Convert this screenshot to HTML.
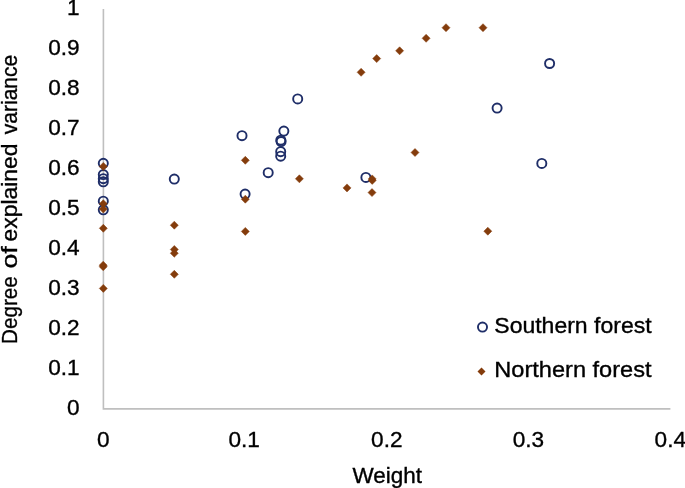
<!DOCTYPE html>
<html><head><meta charset="utf-8"><title>chart</title>
<style>
html,body{margin:0;padding:0;background:#fff;}
body{width:685px;height:488px;overflow:hidden;}
svg{display:block;}
svg{will-change:transform;}
text.t{font-size:21.6px;}
text{font-family:"Liberation Sans",sans-serif;font-size:22.6px;fill:#000;stroke:#000;stroke-width:0.35px;}
</style></head><body>
<svg width="685" height="488" viewBox="0 0 685 488">
<rect width="685" height="488" fill="#fff"/>
<path d="M103.4 8.9 V408.9 H670.4" fill="none" stroke="#bfbfbf" stroke-width="1.6"/>
<text x="79.6" y="415.4" text-anchor="end">0</text>
<text x="79.6" y="375.4" text-anchor="end">0.1</text>
<text x="79.6" y="335.4" text-anchor="end">0.2</text>
<text x="79.6" y="295.4" text-anchor="end">0.3</text>
<text x="79.6" y="255.4" text-anchor="end">0.4</text>
<text x="79.6" y="215.4" text-anchor="end">0.5</text>
<text x="79.6" y="175.4" text-anchor="end">0.6</text>
<text x="79.6" y="135.4" text-anchor="end">0.7</text>
<text x="79.6" y="95.4" text-anchor="end">0.8</text>
<text x="79.6" y="55.4" text-anchor="end">0.9</text>
<text x="79.6" y="15.4" text-anchor="end">1</text>
<text x="103.3" y="447.3" text-anchor="middle">0</text>
<text x="244.2" y="447.3" text-anchor="middle">0.1</text>
<text x="386.8" y="447.3" text-anchor="middle">0.2</text>
<text x="528.5" y="447.3" text-anchor="middle">0.3</text>
<text x="670.3" y="447.3" text-anchor="middle">0.4</text>
<text class="t" x="387.2" y="482.9" text-anchor="middle" textLength="69.5" lengthAdjust="spacingAndGlyphs">Weight</text>
<text class="t" transform="translate(17.0 344.0) rotate(-90)" textLength="67.8" lengthAdjust="spacingAndGlyphs">Degree</text>
<text class="t" transform="translate(17.0 268.6) rotate(-90)" textLength="22.2" lengthAdjust="spacingAndGlyphs">of</text>
<text class="t" transform="translate(17.0 241.4) rotate(-90)" textLength="97.8" lengthAdjust="spacingAndGlyphs">explained</text>
<text class="t" transform="translate(17.0 134.3) rotate(-90)" textLength="79.6" lengthAdjust="spacingAndGlyphs">variance</text>
<g fill="none" stroke="#1f2e68" stroke-width="1.9">
<circle cx="103.3" cy="163.3" r="4.55"/>
<circle cx="103.3" cy="174.6" r="4.55"/>
<circle cx="103.3" cy="178.7" r="4.55"/>
<circle cx="103.3" cy="181.8" r="4.55"/>
<circle cx="103.3" cy="201.2" r="4.55"/>
<circle cx="103.3" cy="209.8" r="4.55"/>
<circle cx="174.3" cy="179.1" r="4.55"/>
<circle cx="242.0" cy="135.7" r="4.55"/>
<circle cx="245.1" cy="194.1" r="4.55"/>
<circle cx="268.2" cy="172.7" r="4.55"/>
<circle cx="280.8" cy="140.2" r="4.55"/>
<circle cx="281.1" cy="141.6" r="4.55"/>
<circle cx="280.7" cy="151.7" r="4.55"/>
<circle cx="280.7" cy="156.2" r="4.55"/>
<circle cx="283.85" cy="131.1" r="4.55"/>
<circle cx="297.7" cy="98.9" r="4.55"/>
<circle cx="365.9" cy="177.4" r="4.55"/>
<circle cx="497.1" cy="108.1" r="4.55"/>
<circle cx="541.8" cy="163.4" r="4.55"/>
<circle cx="549.6" cy="63.5" r="4.55"/>
</g>
<g fill="#843C0C" stroke="#843C0C" stroke-width="0.5" stroke-linejoin="round">
<path d="M103.3 162.4L107.3 166.4L103.3 170.4L99.3 166.4Z"/>
<path d="M103.3 199.7L107.3 203.7L103.3 207.7L99.3 203.7Z"/>
<path d="M103.3 205.0L107.3 209.0L103.3 213.0L99.3 209.0Z"/>
<path d="M103.3 224.3L107.3 228.3L103.3 232.3L99.3 228.3Z"/>
<path d="M103.2 261.2L107.2 265.2L103.2 269.2L99.2 265.2Z"/>
<path d="M103.2 262.7L107.2 266.7L103.2 270.7L99.2 266.7Z"/>
<path d="M103.3 284.4L107.3 288.4L103.3 292.4L99.3 288.4Z"/>
<path d="M174.3 221.2L178.3 225.2L174.3 229.2L170.3 225.2Z"/>
<path d="M174.3 245.5L178.3 249.5L174.3 253.5L170.3 249.5Z"/>
<path d="M174.3 249.2L178.3 253.2L174.3 257.2L170.3 253.2Z"/>
<path d="M174.3 270.3L178.3 274.3L174.3 278.3L170.3 274.3Z"/>
<path d="M245.3 156.3L249.3 160.3L245.3 164.3L241.3 160.3Z"/>
<path d="M245.3 195.2L249.3 199.2L245.3 203.2L241.3 199.2Z"/>
<path d="M245.3 227.4L249.3 231.4L245.3 235.4L241.3 231.4Z"/>
<path d="M299.4 174.8L303.4 178.8L299.4 182.8L295.4 178.8Z"/>
<path d="M347.0 183.9L351.0 187.9L347.0 191.9L343.0 187.9Z"/>
<path d="M372.2 174.9L376.2 178.9L372.2 182.9L368.2 178.9Z"/>
<path d="M372.2 176.4L376.2 180.4L372.2 184.4L368.2 180.4Z"/>
<path d="M372.0 188.6L376.0 192.6L372.0 196.6L368.0 192.6Z"/>
<path d="M361.1 68.3L365.1 72.3L361.1 76.3L357.1 72.3Z"/>
<path d="M376.7 54.6L380.7 58.6L376.7 62.6L372.7 58.6Z"/>
<path d="M399.6 46.8L403.6 50.8L399.6 54.8L395.6 50.8Z"/>
<path d="M426.1 34.3L430.1 38.3L426.1 42.3L422.1 38.3Z"/>
<path d="M446.0 23.7L450.0 27.7L446.0 31.7L442.0 27.7Z"/>
<path d="M483.0 23.7L487.0 27.7L483.0 31.7L479.0 27.7Z"/>
<path d="M415.0 148.5L419.0 152.5L415.0 156.5L411.0 152.5Z"/>
<path d="M487.8 227.2L491.8 231.2L487.8 235.2L483.8 231.2Z"/>
</g>
<circle cx="482.5" cy="327.1" r="4.55" fill="none" stroke="#1f2e68" stroke-width="1.9"/>
<path d="M481.5 367.4L485.5 371.4L481.5 375.4L477.5 371.4Z" fill="#843C0C"/>
<text class="t" x="494.3" y="333.4" textLength="157.3" lengthAdjust="spacingAndGlyphs">Southern forest</text>
<text class="t" x="494.3" y="377.2" textLength="157.2" lengthAdjust="spacingAndGlyphs">Northern forest</text>
</svg>
</body></html>
